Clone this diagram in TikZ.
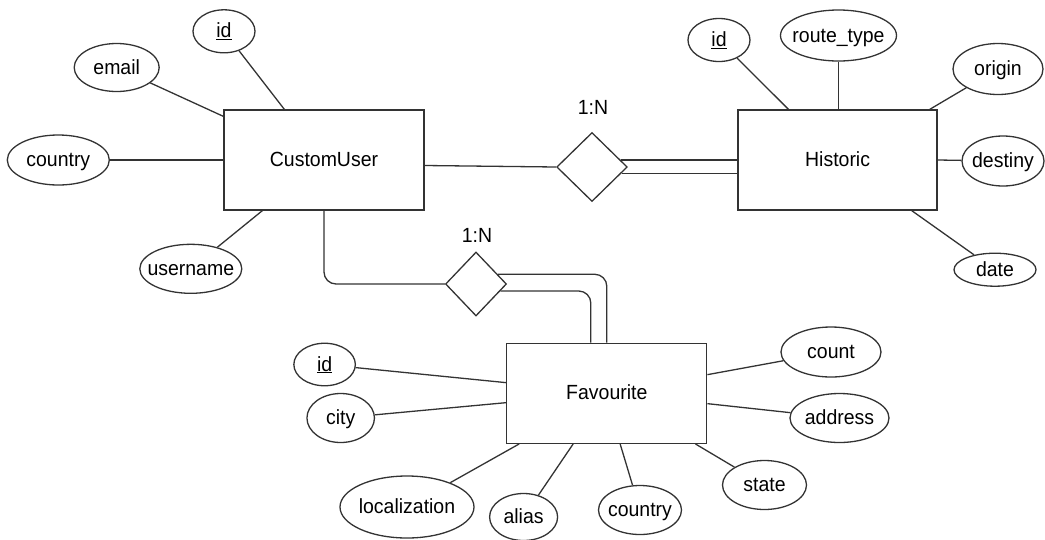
\documentclass[tikz,border=0pt]{standalone}
\usepackage{fontspec}
\setmainfont{Liberation Sans}[FakeStretch=0.95]
\usetikzlibrary{shapes.geometric,calc}
\definecolor{linec}{RGB}{51,51,51}
\newcommand\zw[1]{\makebox[0pt]{#1}}
\begin{document}
\begin{tikzpicture}[x=1pt,y=-1pt,
  every node/.style={font=\fontsize{20.5}{24}\selectfont, text=black},
  ent/.style={draw=linec, line width=1.3pt, minimum width=200pt, minimum height=100pt, inner sep=0pt, text height=17pt, text depth=4pt},
  attr/.style={draw=linec, line width=1.3pt, ellipse, inner sep=0pt, text height=17pt, text depth=4pt},
  rel/.style={draw=linec, line width=1.3pt, diamond, inner sep=0pt},
  lbl/.style={inner sep=0pt, text height=17pt, text depth=4pt},
  conn/.style={draw=linec, line width=1.3pt},
]
\useasboundingbox (0,0) rectangle (1045,539);

% entities
\node[ent] (cu) at (324,160) {CustomUser};
\node[ent, minimum width=199pt] (hi) at (837.6,160) {Historic};
\node[ent] (fa) at (606.8,393.3) {Favourite};

% relationships
\node[rel, minimum width=70.6pt, minimum height=69pt] (d1) at (592,167) {};
\node[rel, minimum width=61pt, minimum height=64pt] (d2) at (476,284) {};
\node[lbl] (l1) at (593,108) {1:N};
\node[lbl] (l2) at (477,236) {1:N};

% CustomUser attributes
\node[attr, minimum width=62pt, minimum height=43pt] (cuid) at (224,31.3) {\zw{\underline{id}}};
\node[attr, minimum width=85pt, minimum height=48pt] (email) at (116.7,67.5) {\zw{email}};
\node[attr, minimum width=102pt, minimum height=50pt] (cucountry) at (58.3,160) {\zw{country}};
\node[attr, minimum width=102pt, minimum height=49pt] (username) at (190.8,268.8) {\zw{username}};

% Historic attributes
\node[attr, minimum width=62pt, minimum height=43pt] (hid) at (719,40) {\zw{\underline{id}}};
\node[attr, minimum width=116pt, minimum height=51pt] (rtype) at (838.5,35.5) {\zw{route\_type}};
\node[attr, minimum width=90pt, minimum height=51pt] (origin) at (998,69) {\zw{origin}};
\node[attr, minimum width=82pt, minimum height=50pt] (destiny) at (1003,161) {\zw{destiny}};
\node[attr, minimum width=82pt, minimum height=33pt] (date) at (995,269.7) {\zw{date}};

% Favourite attributes
\node[attr, minimum width=61.5pt, minimum height=42.5pt] (fid) at (324.6,364.5) {\zw{\underline{id}}};
\node[attr, minimum width=67.5pt, minimum height=49pt] (city) at (340.7,418) {\zw{city}};
\node[attr, minimum width=134pt, minimum height=62pt] (local) at (407,507) {\zw{localization}};
\node[attr, minimum width=68pt, minimum height=47pt] (alias) at (523.6,517) {\zw{alias}};
\node[attr, minimum width=83pt, minimum height=49pt] (fcountry) at (640,510) {\zw{country}};
\node[attr, minimum width=84pt, minimum height=49pt] (state) at (764.5,485) {\zw{state}};
\node[attr, minimum width=100pt, minimum height=50pt] (count) at (831,352) {\zw{count}};
\node[attr, minimum width=99pt, minimum height=49pt] (address) at (839.5,418) {\zw{address}};

% CustomUser connectors
\draw[conn] (cuid) -- ($(cu.north west)+(61,0)$);
\draw[conn] (email) -- ($(cu.north west)+(0,7)$);
\draw[conn] (cucountry) -- (cu.west);
\draw[conn] (username) -- ($(cu.south west)+(39,0)$);

% relationship 1
\draw[conn] ($(cu.east)+(0,5.5)$) -- (d1.west);
\draw[conn] (d1.14) -- (d1.14 -| hi.west);
\draw[conn] (d1.-12.3) -- (d1.-12.3 -| hi.west);

% Historic connectors
\draw[conn] (hid) -- ($(hi.north west)+(51,0)$);
\draw[conn] (rtype) -- (rtype.south |- hi.north);
\draw[conn] (origin) -- ($(hi.north east)+(-8,0)$);
\draw[conn] (destiny) -- (hi.east);
\draw[conn] (date) -- ($(hi.south east)+(-26,0)$);

% relationship 2
\draw[conn, rounded corners=12pt] (cu.south) |- (d2.west);
\draw[conn, rounded corners=12pt] (d2.24.5) -| (fa.north);
\draw[conn, rounded corners=12pt] (d2.-16.4) -| ($(fa.north)+(-16,0)$);

% Favourite connectors
\draw[conn] (fid) -- ($(fa.north west)+(0,40)$);
\draw[conn] (city) -- ($(fa.north west)+(0,60)$);
\draw[conn] (local) -- ($(fa.south west)+(13,0)$);
\draw[conn] (alias) -- ($(fa.south west)+(67,0)$);
\draw[conn] (fcountry) -- ($(fa.south west)+(114,0)$);
\draw[conn] (state) -- ($(fa.south east)+(-12,0)$);
\draw[conn] (count) -- ($(fa.north east)+(0,32)$);
\draw[conn] (address) -- ($(fa.north east)+(0,61)$);
\end{tikzpicture}
\end{document}
